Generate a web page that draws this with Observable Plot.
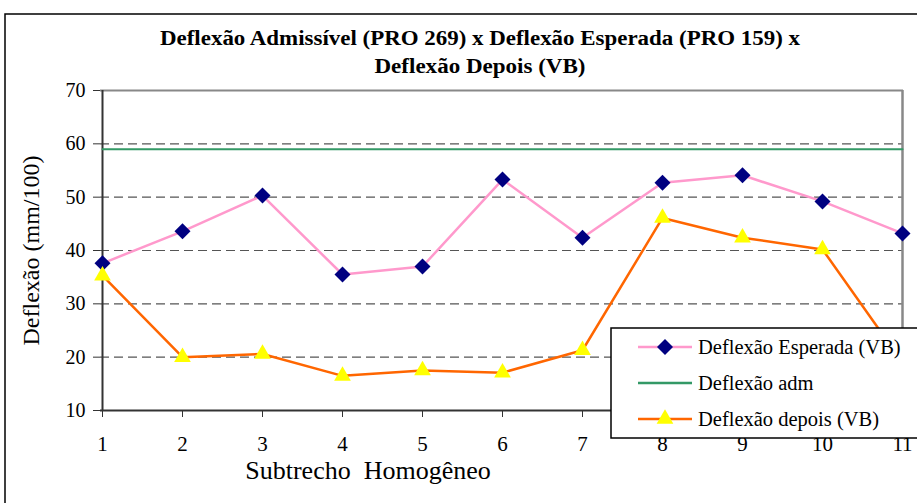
<!DOCTYPE html>
<html><head><meta charset="utf-8">
<script src="https://cdn.jsdelivr.net/npm/d3@7"></script>
<script src="https://cdn.jsdelivr.net/npm/@observablehq/plot@0.6"></script>
<style>
html,body{margin:0;padding:0;background:#fff;}
svg{display:block;}
</style></head>
<body><div id="chart"></div>
<script>
const trechos = [1,2,3,4,5,6,7,8,9,10,11];
const esperada = [37.6,43.6,50.3,35.5,37.0,53.3,42.4,52.7,54.1,49.2,43.2];
const depois = [35.3,20.0,20.6,16.5,17.5,17.1,21.3,46.1,42.4,40.2,19.0];
const adm = [59,59,59,59,59,59,59,59,59,59,59];
const yTicks = [10,20,30,40,50,60,70];
const gridLines = [20,30,40,50,60];
const titleLines = ["Deflexão Admissível (PRO 269) x Deflexão Esperada (PRO 159) x","Deflexão Depois (VB)"];
const seriesNames = ["Deflexão Esperada (VB)","Deflexão adm","Deflexão depois (VB)"];

const esp = trechos.map((t,i)=>({t, v:esperada[i]}));
const dep = trechos.map((t,i)=>({t, v:depois[i]}));
const ad = trechos.map((t,i)=>({t, v:adm[i]}));

const font = "Liberation Serif, Times New Roman, DejaVu Serif, serif";

const plot = Plot.plot({
  width: 917, height: 503,
  marginLeft: 100, marginRight: 14, marginTop: 90, marginBottom: 93,
  style: {fontFamily: font, fontSize: "20px", color: "#000", background: "#fff", overflow: "visible"},
  x: {type: "point", domain: trechos, padding: 0},
  y: {domain: [10,70]},
  marks: [
    Plot.ruleY(gridLines, {stroke: "#555", strokeWidth: 1.2, strokeDasharray: "9,5"}),
    Plot.ruleY([70], {stroke: "#888", strokeWidth: 2}),
    Plot.ruleX([11], {stroke: "#888", strokeWidth: 2.5}),
    Plot.ruleX([1], {stroke: "#333", strokeWidth: 2}),
    Plot.ruleY([10], {stroke: "#333", strokeWidth: 2}),
    Plot.axisY({ticks: yTicks, tickSize: 7, tickPadding: 8, tickFormat: d=>d, fontSize: 20, label: null, stroke: "#333", fontFamily: font}),
    Plot.axisX({tickSize: 7, tickPadding: 19, fontSize: 21, label: null, stroke: "#333", fontFamily: font}),
    Plot.text(["Deflexão (mm/100)"], {frameAnchor: "left", textAnchor: "middle", dx: -69, rotate: -90, fontSize: 24, fill: "#000", fontFamily: font}),
    Plot.text(["Subtrecho  Homogêneo"], {frameAnchor: "bottom", textAnchor: "middle", dx: -134, dy: 68, fontSize: 26, fill: "#000", fontFamily: font}),
    Plot.lineY(ad, {x: "t", y: "v", stroke: "#339966", strokeWidth: 2}),
    Plot.lineY(esp, {x: "t", y: "v", stroke: "#FF99CC", strokeWidth: 2.5}),
    Plot.lineY(dep, {x: "t", y: "v", stroke: "#FF6600", strokeWidth: 2.5}),
    Plot.dot(esp, {x: "t", y: "v", symbol: "diamond2", r: 7.2, fill: "#000080", stroke: "none"}),
    Plot.dot(dep, {x: "t", y: "v", symbol: "triangle", r: 6.2, fill: "#FFFF00", stroke: "none"})
  ]
});
document.getElementById("chart").appendChild(plot);

const svg = d3.select(plot);
// Title
const titleWidths = [640, 211];
svg.append("g").selectAll("text").data(titleLines).join("text")
  .attr("x", 480).attr("y", (d,i)=>45 + i*28)
  .attr("text-anchor","middle")
  .attr("textLength", (d,i)=>titleWidths[i]).attr("lengthAdjust","spacingAndGlyphs")
  .style("font-family", font).attr("font-weight","bold").attr("font-size", 20)
  .attr("fill","#000")
  .text(d=>d);

// Outer border
svg.append("rect").attr("x",5).attr("y",14).attr("width",930).attr("height",520)
  .attr("fill","none").attr("stroke","#000").attr("stroke-width",1.5);

// Legend
const lg = svg.append("g");
lg.append("rect").attr("x",611).attr("y",328).attr("width",330).attr("height",110)
  .attr("fill","#fff").attr("stroke","#000").attr("stroke-width",1.5);
const colors = ["#FF99CC","#339966","#FF6600"];
const rowY = [347,383,419];
seriesNames.forEach((name,i)=>{
  lg.append("line").attr("x1",638).attr("x2",692).attr("y1",rowY[i]).attr("y2",rowY[i])
    .attr("stroke",colors[i]).attr("stroke-width",2.5);
  if(i===0){
    lg.append("path").attr("d", d3.symbol(d3.symbolDiamond2, Math.PI*7.2*7.2)())
      .attr("transform",`translate(665,${rowY[i]})`).attr("fill","#000080");
  }
  if(i===2){
    lg.append("path").attr("d", d3.symbol(d3.symbolTriangle, Math.PI*6.2*6.2)())
      .attr("transform",`translate(665,${rowY[i]})`).attr("fill","#FFFF00");
  }
  lg.append("text").attr("x",698).attr("y",rowY[i]).attr("dy","0.35em")
    .attr("text-anchor","start")
    .style("font-family",font).attr("font-size",20.5).attr("fill","#000").text(name);
});
</script>
</body></html>
